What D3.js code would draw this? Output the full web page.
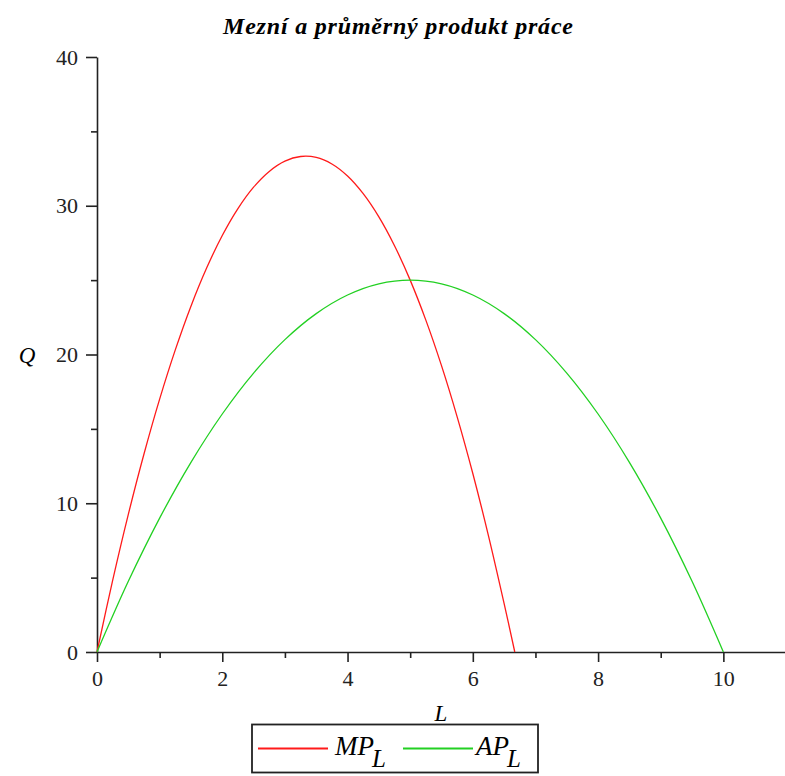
<!DOCTYPE html>
<html>
<head>
<meta charset="utf-8">
<script src="https://cdn.jsdelivr.net/npm/d3@7"></script>
<style>
  body { margin: 0; background: #fff; }
  text { font-family: "Liberation Serif", "Times New Roman", serif; }
</style>
</head>
<body>
<div id="chart"></div>
<script>
// values
const mpL = [0, 0.25, 0.5, 0.75, 1, 1.25, 1.5, 1.75, 2, 2.25, 2.5, 2.75, 3, 3.25, 3.5,
  3.75, 4, 4.25, 4.5, 4.75, 5, 5.25, 5.5, 5.75, 6, 6.25, 6.5, 6.67];
const mpQ = [0, 4.81, 9.25, 13.31, 17, 20.31, 23.25, 25.81, 28, 29.81, 31.25, 32.31, 33, 33.31, 33.25,
  32.81, 32, 30.81, 29.25, 27.31, 25, 22.31, 19.25, 15.81, 12, 7.81, 3.25, 0];
const apL = [0, 0.5, 1, 1.5, 2, 2.5, 3, 3.5, 4, 4.5, 5, 5.5, 6, 6.5, 7, 7.5, 8, 8.5, 9, 9.5, 10];
const apQ = [0, 4.75, 9, 12.75, 16, 18.75, 21, 22.75, 24, 24.75, 25, 24.75, 24, 22.75, 21,
  18.75, 16, 12.75, 9, 4.75, 0];
const xTicks = [0, 2, 4, 6, 8, 10];
const xMinor = [1, 3, 5, 7, 9];
const yTicks = [0, 10, 20, 30, 40];
const yMinor = [5, 15, 25, 35];

const W = 785, H = 776;
const svg = d3.select('#chart').append('svg')
  .attr('width', W).attr('height', H);

const x = d3.scaleLinear().domain([0, 11]).range([97, 786]);
const y = d3.scaleLinear().domain([0, 40]).range([652, 57]);

// title
svg.append('text')
  .attr('x', 398).attr('y', 34)
  .attr('text-anchor', 'middle')
  .attr('textLength', 350).attr('lengthAdjust', 'spacing')
  .style('font-size', '24px').style('font-weight', 'bold').style('font-style', 'italic')
  .text('Mezní a průměrný produkt práce');

// axes
svg.append('g').attr('transform', `translate(0,${y(0)})`)
  .call(d3.axisBottom(x).tickValues(xTicks).tickSize(10).tickSizeOuter(0)
    .tickPadding(8).tickFormat(d3.format('d')));
svg.append('g').attr('transform', `translate(0,${y(0)})`)
  .call(d3.axisBottom(x).tickValues(xMinor).tickSize(6).tickFormat(''))
  .select('.domain').remove();
svg.append('g').attr('transform', `translate(${x(0)},0)`)
  .call(d3.axisLeft(y).tickValues(yTicks).tickSize(11).tickSizeOuter(0)
    .tickPadding(8).tickFormat(d3.format('d')));
svg.append('g').attr('transform', `translate(${x(0)},0)`)
  .call(d3.axisLeft(y).tickValues(yMinor).tickSize(6).tickFormat(''))
  .select('.domain').remove();

svg.selectAll('.domain').attr('stroke-width', 1.6).attr('stroke', '#222');
svg.selectAll('.tick line').attr('stroke', '#222').attr('stroke-width', 1.6);
svg.selectAll('.tick text').style('font-size', '22px').attr('fill', '#222')
  .style('font-family', '"Liberation Serif", serif');

// axis labels
svg.append('text').attr('x', 27).attr('y', 363).attr('text-anchor', 'middle')
  .style('font-size', '23px').style('font-style', 'italic').text('Q');
svg.append('text').attr('x', 441).attr('y', 721).attr('text-anchor', 'middle')
  .style('font-size', '23px').style('font-style', 'italic').text('L');

// curves
const line = d3.line().x(d => x(d[0])).y(d => y(d[1])).curve(d3.curveCatmullRom);
const series = [
  { name: 'MP', xs: mpL, ys: mpQ, color: '#ff1a1a' },
  { name: 'AP', xs: apL, ys: apQ, color: '#22d022' }
];
series.forEach(s => {
  svg.append('path')
    .datum(s.xs.map((v, i) => [v, s.ys[i]]))
    .attr('fill', 'none')
    .attr('stroke', s.color)
    .attr('stroke-width', 1.3)
    .attr('d', line);
});

// legend
const legend = svg.append('g');
legend.append('rect').attr('x', 252).attr('y', 724.5).attr('width', 286).attr('height', 48)
  .attr('fill', 'none').attr('stroke', '#222').attr('stroke-width', 1.8);
const legX = [258, 403];
series.forEach((s, i) => {
  legend.append('line')
    .attr('x1', legX[i]).attr('x2', legX[i] + 70)
    .attr('y1', 748.5).attr('y2', 748.5)
    .attr('stroke', s.color).attr('stroke-width', 1.8);
  const t = legend.append('text')
    .attr('x', legX[i] + (i === 0 ? 77 : 73)).attr('y', 755)
    .style('font-style', 'italic');
  t.append('tspan').style('font-size', '27px').text(s.name);
  t.append('tspan').attr('dy', 12).attr('dx', -2).style('font-size', '25px').text('L');
});
</script>
</body>
</html>
